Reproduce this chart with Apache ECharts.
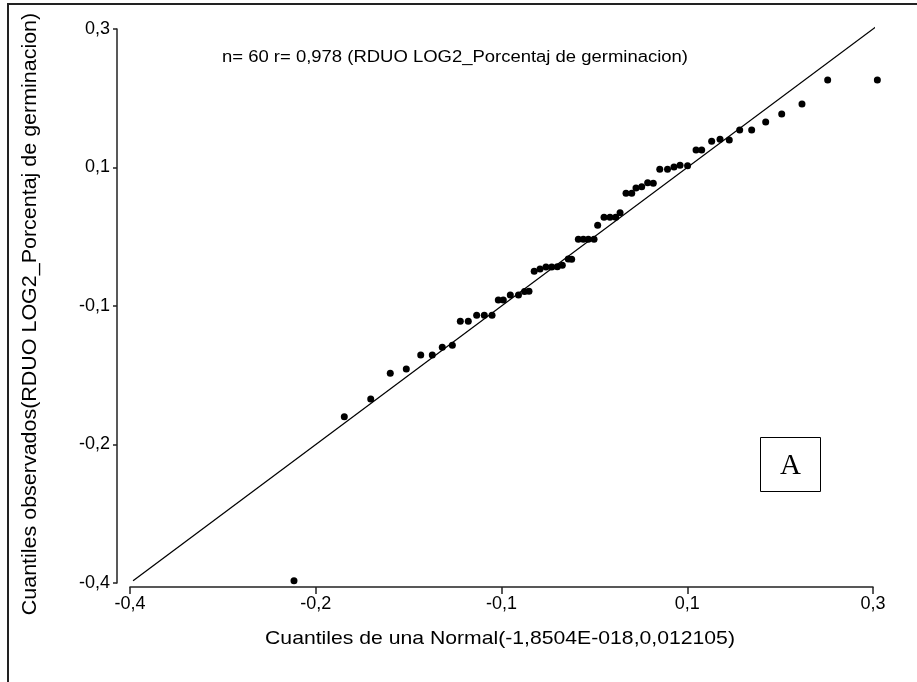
<!DOCTYPE html>
<html>
<head>
<meta charset="utf-8">
<title>Q-Q plot</title>
<script src="https://cdn.jsdelivr.net/npm/echarts@6/dist/echarts.min.js"></script>
<style>
  html, body { margin: 0; padding: 0; background: #fff; }
  #chart { width: 917px; height: 682px; }
</style>
</head>
<body>
<div id="chart"></div>
<script>
// Theoretical normal quantiles (x) and observed residual quantiles (y), sorted
const xQuantiles = [
  -0.2455, -0.1981, -0.1732, -0.1548, -0.1397, -0.1261, -0.1152, -0.1058, -0.0963, -0.0888,
  -0.0813, -0.0734, -0.0662, -0.0589, -0.0530, -0.0483, -0.0417, -0.0340, -0.0283, -0.0241,
  -0.0192, -0.0137, -0.0081, -0.0027, 0.0026, 0.0073, 0.0129, 0.0161, 0.0224, 0.0271,
  0.0318, 0.0372, 0.0406, 0.0466, 0.0522, 0.0576, 0.0617, 0.0673, 0.0727, 0.0767,
  0.0821, 0.0877, 0.0930, 0.0991, 0.1064, 0.1125, 0.1182, 0.1253, 0.1333, 0.1386,
  0.1480, 0.1559, 0.1646, 0.1744, 0.1857, 0.1989, 0.2140, 0.2331, 0.2573, 0.3041
];
const yObserved = [
  -0.3971, -0.1899, -0.1675, -0.1350, -0.1296, -0.1119, -0.1119, -0.1022, -0.0996, -0.0693,
  -0.0693, -0.0617, -0.0617, -0.0617, -0.0424, -0.0424, -0.0361, -0.0361, -0.0317, -0.0314,
  -0.0061, -0.0032, -0.0007, -0.0007, -0.0003, 0.0014, 0.0094, 0.0090, 0.0343, 0.0343,
  0.0343, 0.0343, 0.0520, 0.0621, 0.0621, 0.0621, 0.0679, 0.0924, 0.0924, 0.0991,
  0.1008, 0.1058, 0.1050, 0.1227, 0.1227, 0.1257, 0.1278, 0.1273, 0.1471, 0.1471,
  0.1581, 0.1607, 0.1598, 0.1724, 0.1724, 0.1825, 0.1926, 0.2053, 0.2356, 0.2356
];

// y = x reference line, drawn between the overall extremes
const referenceLine = [-0.3971, 0.3041];

// Axis ticks (shared by both axes) and their printed labels
const tickValues = [-0.4, -0.225, -0.05, 0.125, 0.3];
const tickLabels = ['-0,4', '-0,2', '-0,1', '0,1', '0,3'];

const titleText = 'n= 60 r= 0,978 (RDUO LOG2_Porcentaj de germinacion)';
const xAxisTitle = 'Cuantiles de una Normal(-1,8504E-018,0,012105)';
const yAxisTitle = 'Cuantiles observados(RDUO LOG2_Porcentaj de germinacion)';
const panelLetter = 'A';

const FONT = '"Liberation Sans", Arial, sans-serif';

function tickFormatter(value) {
  for (let i = 0; i < tickValues.length; i++) {
    if (Math.abs(tickValues[i] - value) < 1e-6) return tickLabels[i];
  }
  return '';
}

const axisCommon = {
  type: 'value',
  min: tickValues[0],
  max: tickValues[tickValues.length - 1],
  interval: tickValues[1] - tickValues[0],
  splitLine: { show: false },
  axisLine: { show: true, onZero: false, lineStyle: { color: '#222', width: 1.5 } },
  axisTick: { show: true, inside: false, lineStyle: { color: '#222', width: 1.5 } },
  axisLabel: {
    formatter: tickFormatter,
    color: '#000',
    fontFamily: FONT,
    fontSize: 18,
    showMinLabel: true,
    showMaxLabel: true
  }
};

const points = xQuantiles.map((x, i) => [x, yObserved[i]]);

const chart = echarts.init(document.getElementById('chart'), null, { renderer: 'canvas' });

chart.setOption({
  animation: false,
  backgroundColor: '#fff',
  grid: { left: 130, right: 44, top: 29, bottom: 99, containLabel: false },
  xAxis: Object.assign({}, axisCommon, {
    position: 'bottom',
    offset: 4,
    axisTick: Object.assign({}, axisCommon.axisTick, { length: 7 }),
    axisLabel: Object.assign({}, axisCommon.axisLabel, { margin: 8 })
  }),
  yAxis: Object.assign({}, axisCommon, {
    position: 'left',
    offset: 13,
    axisTick: Object.assign({}, axisCommon.axisTick, { length: 4 }),
    axisLabel: Object.assign({}, axisCommon.axisLabel, { margin: 7 })
  }),
  series: [
    {
      type: 'line',
      data: [[referenceLine[0], referenceLine[0]], [referenceLine[1], referenceLine[1]]],
      showSymbol: false,
      symbol: 'none',
      clip: false,
      lineStyle: { color: '#000', width: 1.3 },
      silent: true,
      z: 2
    },
    {
      type: 'scatter',
      data: points,
      symbol: 'circle',
      symbolSize: 7,
      clip: false,
      itemStyle: { color: '#000', opacity: 1 },
      z: 3
    }
  ],
  graphic: [
    // outer frame (top and left edges)
    {
      type: 'polyline',
      shape: { points: [[8, 682], [8, 4], [917, 4]] },
      style: { stroke: '#222', lineWidth: 2, fill: null }
    },
    {
      type: 'text',
      x: 222, y: 58,
      scaleX: 1.154,
      style: { text: titleText, font: '16px ' + FONT, fill: '#000', align: 'left', verticalAlign: 'middle' }
    },
    {
      type: 'text',
      x: 500, y: 639,
      scaleX: 1.115,
      style: { text: xAxisTitle, font: '19px ' + FONT, fill: '#000', align: 'center', verticalAlign: 'middle' }
    },
    {
      type: 'text',
      x: 30, y: 314,
      rotation: Math.PI / 2,
      scaleX: 1.073,
      style: { text: yAxisTitle, font: '20px ' + FONT, fill: '#000', align: 'center', verticalAlign: 'middle' }
    },
    {
      type: 'rect',
      shape: { x: 760.5, y: 437.5, width: 60, height: 54 },
      style: { stroke: '#000', lineWidth: 1, fill: '#fff' }
    },
    {
      type: 'text',
      x: 790.5, y: 466,
      style: { text: panelLetter, font: '29px "Liberation Serif", "Times New Roman", serif', fill: '#000', align: 'center', verticalAlign: 'middle' }
    }
  ]
});
</script>
</body>
</html>
